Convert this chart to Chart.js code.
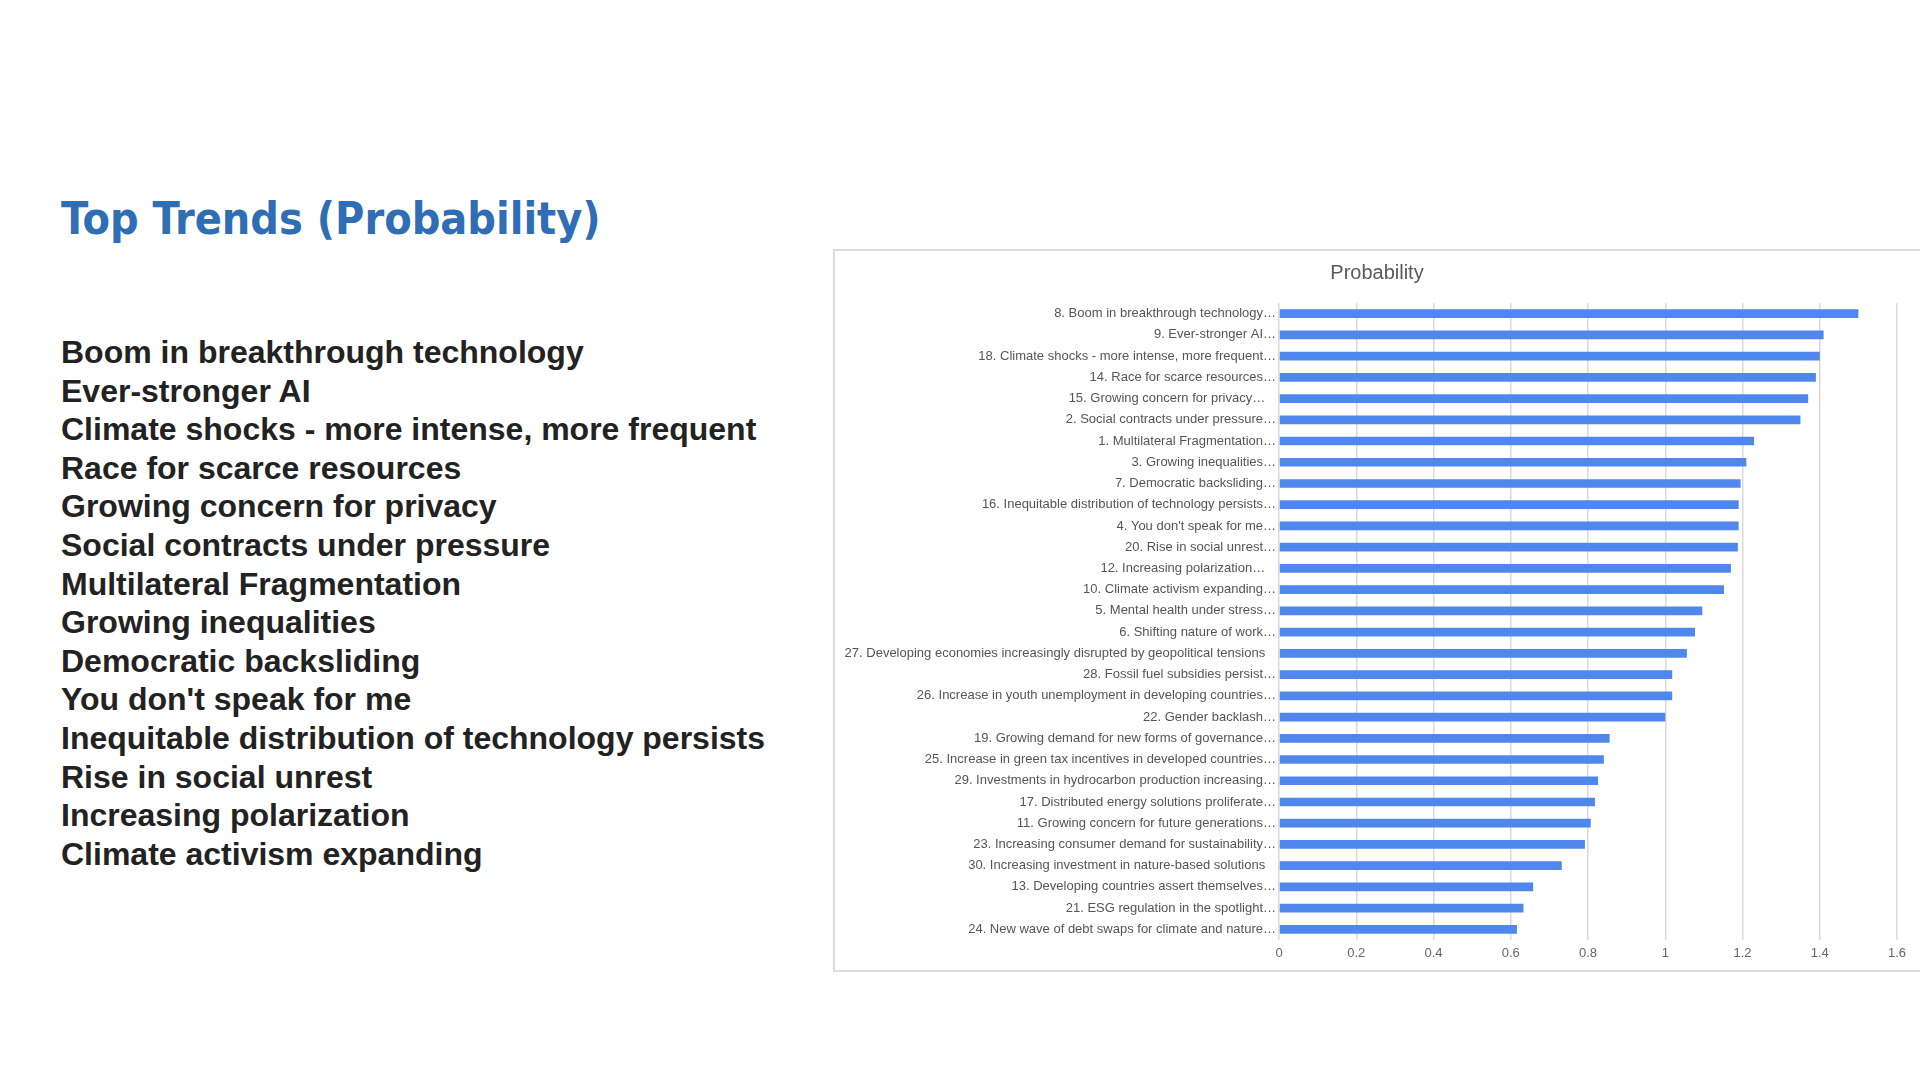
<!DOCTYPE html>
<html>
<head>
<meta charset="utf-8">
<script src="https://cdn.jsdelivr.net/npm/chart.js@4.4.1/dist/chart.umd.min.js"></script>
<style>
  html, body { margin: 0; padding: 0; background: #fff; overflow: hidden; }
  body { width: 1920px; height: 1078px; position: relative; }
  #titulo {
    position: absolute; left: 61px; top: 191px;
    font-family: "DejaVu Sans Condensed", "DejaVu Sans", sans-serif;
    font-weight: bold; font-size: 44.5px; color: #2f6db5; line-height: 56px;
    white-space: nowrap;
  }
  #lista {
    position: absolute; left: 61px; top: 333px;
    font-family: "Liberation Sans", Arial, sans-serif;
    font-weight: bold; font-size: 32px; line-height: 38.6px; color: #222;
    white-space: nowrap;
  }
  #caja {
    position: absolute; left: 833px; top: 249px; width: 1100px; height: 723px;
    border: 2px solid #dcdcdc; box-sizing: border-box;
  }
  #grafica { position: absolute; left: 834px; top: 250px; }
  #tituloGrafica {
    position: absolute; left: 834px; top: 259px; width: 1086px; text-align: center;
    font-family: "Liberation Sans", Arial, sans-serif; font-size: 20px; line-height: 26px;
    color: #5a5a5a;
  }
</style>
</head>
<body>
<div id="titulo">Top Trends (Probability)</div>
<div id="lista"></div>
<div id="caja"></div>
<canvas id="grafica" width="1086" height="720"></canvas>
<div id="tituloGrafica">Probability</div>
<script>
// datos de la grafica
const etiquetas = [
  '8. Boom in breakthrough technology…',
  '9. Ever-stronger AI…',
  '18. Climate shocks - more intense, more frequent…',
  '14. Race for scarce resources…',
  '15. Growing concern for privacy…   ',
  '2. Social contracts under pressure…',
  '1. Multilateral Fragmentation…',
  '3. Growing inequalities…',
  '7. Democratic backsliding…',
  '16. Inequitable distribution of technology persists…',
  '4. You don\'t speak for me…',
  '20. Rise in social unrest…',
  '12. Increasing polarization…   ',
  '10. Climate activism expanding…',
  '5. Mental health under stress…',
  '6. Shifting nature of work…',
  '27. Developing economies increasingly disrupted by geopolitical tensions   ',
  '28. Fossil fuel subsidies persist…',
  '26. Increase in youth unemployment in developing countries…',
  '22. Gender backlash…',
  '19. Growing demand for new forms of governance…',
  '25. Increase in green tax incentives in developed countries…',
  '29. Investments in hydrocarbon production increasing…',
  '17. Distributed energy solutions proliferate…',
  '11. Growing concern for future generations…',
  '23. Increasing consumer demand for sustainability…',
  '30. Increasing investment in nature-based solutions   ',
  '13. Developing countries assert themselves…',
  '21. ESG regulation in the spotlight…',
  '24. New wave of debt swaps for climate and nature…'
];
const probabilidad = [
  1.50, 1.41, 1.40, 1.39, 1.37, 1.35, 1.23, 1.21, 1.195, 1.19,
  1.19, 1.188, 1.17, 1.152, 1.096, 1.077, 1.056, 1.018, 1.018, 1.0,
  0.856, 0.841, 0.826, 0.818, 0.807, 0.792, 0.732, 0.658, 0.633, 0.616
];
const ticksX = [0, 0.2, 0.4, 0.6, 0.8, 1, 1.2, 1.4, 1.6];
const tendencias = [
  'Boom in breakthrough technology',
  'Ever-stronger AI',
  'Climate shocks - more intense, more frequent',
  'Race for scarce resources',
  'Growing concern for privacy',
  'Social contracts under pressure',
  'Multilateral Fragmentation',
  'Growing inequalities',
  'Democratic backsliding',
  'You don\'t speak for me',
  'Inequitable distribution of technology persists',
  'Rise in social unrest',
  'Increasing polarization',
  'Climate activism expanding'
];

// lista de la izquierda
const lista = document.getElementById('lista');
tendencias.forEach(t => {
  const d = document.createElement('div');
  d.textContent = t;
  lista.appendChild(d);
});

const fuente = '"Liberation Sans", Arial, sans-serif';
const grafica = new Chart(document.getElementById('grafica'), {
  type: 'bar',
  data: {
    labels: etiquetas,
    datasets: [{
      label: 'Probability',
      data: probabilidad,
      backgroundColor: '#4f87ec',
      borderWidth: 0,
      barPercentage: 0.41,
      categoryPercentage: 1
    }]
  },
  options: {
    indexAxis: 'y',
    responsive: false,
    animation: false,
    layout: { padding: { top: 53, right: 23, bottom: 0, left: 0 } },
    plugins: {
      legend: { display: false },
      tooltip: { enabled: false },
      title: { display: false }
    },
    scales: {
      x: {
        min: 0, max: 1.6,
        afterBuildTicks: s => { s.ticks = ticksX.map(v => ({ value: v })); },
        afterFit: s => { s.height = 30; },
        grid: { color: '#dadada', lineWidth: 1.5, drawTicks: false },
        border: { display: false },
        ticks: {
          color: '#666', padding: 6,
          font: { family: fuente, size: 13 },
          callback: v => String(Number(v.toFixed(1)))
        }
      },
      y: {
        afterFit: s => { s.width = 445; },
        grid: { display: false, drawTicks: false },
        border: { display: false },
        ticks: {
          color: '#555', padding: 3, autoSkip: false,
          font: { family: fuente, size: 13 }
        }
      }
    }
  }
});
</script>
</body>
</html>
